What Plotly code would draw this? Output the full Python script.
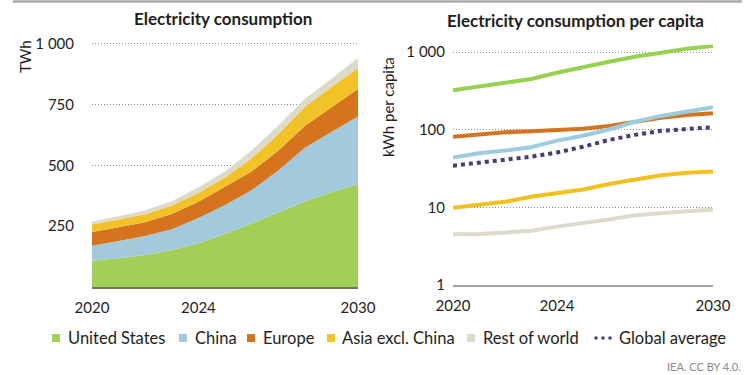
import plotly.graph_objects as go

# ---------------- data ----------------
years = [2020, 2021, 2022, 2023, 2024, 2025, 2026, 2027, 2028, 2029, 2030]
series_names = ["United States", "China", "Europe", "Asia excl. China", "Rest of world"]
global_name = "Global average"

# Electricity consumption (TWh), stacked
twh_us = [108, 118, 131, 152, 180, 218, 261, 306, 351, 389, 423]
twh_china = [61, 71, 79, 85, 103, 119, 136, 173, 221, 248, 277]
twh_europe = [57, 56, 56, 63, 67, 75, 78, 81, 89, 100, 113]
twh_asia = [31, 32, 33, 35, 36, 38, 53, 68, 78, 85, 87]
twh_rest = [12, 14, 16, 17, 24, 25, 33, 34, 33, 34, 41]

# Electricity consumption per capita (kWh per capita), log scale
pc_us = [323, 360, 405, 451, 544, 650, 755, 875, 995, 1109, 1202]
pc_china = [44, 50, 54, 59.5, 72.5, 84, 101, 127, 151, 171, 195]
pc_europe = [81.5, 87, 93, 96, 98, 103, 112, 127, 143, 155, 163]
pc_asia = [9.9, 10.8, 11.8, 13.7, 15.2, 17, 20, 23, 26, 28, 29]
pc_rest = [4.5, 4.55, 4.75, 5.0, 5.65, 6.2, 7.0, 7.9, 8.5, 8.9, 9.3]
pc_global = [34.5, 37.7, 40.8, 45, 51, 60.5, 74, 86, 97, 103.5, 108]

x_tickvals = [2020, 2024, 2030]
left_tickvals = [250, 500, 750, 1000]
left_ticktext = ["250", "500", "750", "1 000"]
right_tickvals = [1, 10, 100, 1000]
right_ticktext = ["1", "10", "100", "1 000"]

titles = ["Electricity consumption", "Electricity consumption per capita"]
left_unit = "TWh"
right_unit = "kWh per capita"
source = "IEA. CC BY 4.0."

# ---------------- style ----------------
colors = ["#A1CF58", "#A2CADC", "#D6731F", "#F2C229", "#DDDACA"]
line_colors = ["#98D050", "#9DCBE0", "#D6731F", "#F4C020", "#DDDACA"]
global_color = "#4A3A78"
FONT = "Lato"
TXT = "#1e1e1e"

W, H = 750, 375


def fx(px):
    return px / W


def fy(px):
    return 1 - px / H


fig = go.Figure()

tw_series = [twh_us, twh_china, twh_europe, twh_asia, twh_rest]
for name, vals, col in zip(series_names, tw_series, colors):
    fig.add_trace(go.Scatter(
        x=years, y=vals, name=name, stackgroup="one", mode="none",
        fillcolor=col, line=dict(width=0), showlegend=False, hoverinfo="skip",
        xaxis="x", yaxis="y"))

pc_series = [pc_us, pc_china, pc_europe, pc_asia, pc_rest]
order = [4, 3, 2, 0, 1]
for i in order:
    fig.add_trace(go.Scatter(
        x=years, y=pc_series[i], name=series_names[i], mode="lines",
        line=dict(color=line_colors[i], width=4), showlegend=False, hoverinfo="skip",
        xaxis="x2", yaxis="y2"))
fig.add_trace(go.Scatter(
    x=years, y=pc_global, name=global_name, mode="lines",
    line=dict(color=global_color, width=4, dash="4px,4px"), showlegend=False, hoverinfo="skip",
    xaxis="x2", yaxis="y2"))

# axes geometry (pixels)
L_x0, L_x1, L_ybot = 92, 358, 287
L_scale = 0.2434  # px per TWh
L_top_val = 1005
L_ytop = L_ybot - L_top_val * L_scale
R_x0, R_x1, R_ybot = 453, 713, 285
R_dec = 77.6
R_top = 3.1
R_ytop = R_ybot - R_top * R_dec

grid = dict(showgrid=True, gridcolor="#8c8c8c", gridwidth=1, griddash="1px,2px")
tickfont = dict(family=FONT, size=15, color=TXT)

fig.update_layout(
    width=W, height=H, margin=dict(l=0, r=0, t=0, b=0, autoexpand=False),
    paper_bgcolor="white", plot_bgcolor="white",
    showlegend=False, hovermode=False,
    xaxis=dict(domain=[fx(L_x0), fx(L_x1)], range=[2020, 2030], tickvals=x_tickvals,
               showgrid=False, zeroline=False, showline=True, linecolor="#6f7757", linewidth=2,
               ticks="outside", ticklen=6, tickcolor="rgba(0,0,0,0)", tickfont=tickfont,
               anchor="y", automargin=False),
    yaxis=dict(domain=[fy(L_ybot), fy(L_ytop)], range=[0, L_top_val], tickvals=left_tickvals,
               ticktext=left_ticktext, zeroline=False, showline=False,
               ticks="outside", ticklen=14, tickcolor="rgba(0,0,0,0)", tickfont=tickfont,
               anchor="x", automargin=False, **grid),
    xaxis2=dict(domain=[fx(R_x0), fx(R_x1)], range=[2020, 2030], tickvals=x_tickvals,
                showgrid=False, zeroline=False, showline=True, linecolor="#a0a0a0", linewidth=1.5,
                ticks="outside", ticklen=6, tickcolor="rgba(0,0,0,0)", tickfont=tickfont,
                anchor="y2", automargin=False),
    yaxis2=dict(domain=[fy(R_ybot), fy(R_ytop)], type="log", range=[0, R_top],
                tickvals=right_tickvals, ticktext=right_ticktext, zeroline=False, showline=False,
                ticks="outside", ticklen=4, tickcolor="rgba(0,0,0,0)", tickfont=tickfont,
                anchor="x2", automargin=False, **grid),
)

ann = []
ann.append(dict(text="<b>%s</b>" % titles[0], x=fx(223), y=fy(19), xref="paper", yref="paper",
                showarrow=False, xanchor="center", yanchor="middle",
                font=dict(family=FONT, size=17, color=TXT)))
ann.append(dict(text="<b>%s</b>" % titles[1], x=fx(575), y=fy(20), xref="paper", yref="paper",
                showarrow=False, xanchor="center", yanchor="middle",
                font=dict(family=FONT, size=17, color=TXT)))
ann.append(dict(text=left_unit, x=fx(25), y=fy(57), xref="paper", yref="paper", textangle=-90,
                showarrow=False, xanchor="center", yanchor="middle",
                font=dict(family=FONT, size=15, color=TXT)))
ann.append(dict(text=right_unit, x=fx(388), y=fy(107), xref="paper", yref="paper", textangle=-90,
                showarrow=False, xanchor="center", yanchor="middle",
                font=dict(family=FONT, size=15, color=TXT)))
ann.append(dict(text=source, x=fx(743), y=fy(366), xref="paper", yref="paper",
                showarrow=False, xanchor="right", yanchor="middle",
                font=dict(family=FONT, size=11, color="#8a8a8a")))

# manual legend
leg_y = 338
leg_sq_x = [56, 183, 251, 331, 471]
leg_txt_x = [66, 193, 261, 340, 481]
shapes = []
for name, col, sx, tx in zip(series_names, colors, leg_sq_x, leg_txt_x):
    shapes.append(dict(type="rect", xref="paper", yref="paper",
                       x0=fx(sx - 4), x1=fx(sx + 4), y0=fy(leg_y + 4), y1=fy(leg_y - 4),
                       fillcolor=col, line=dict(width=0)))
    ann.append(dict(text=name, x=fx(tx), y=fy(leg_y), xref="paper", yref="paper",
                    showarrow=False, xanchor="left", yanchor="middle",
                    font=dict(family=FONT, size=16.5, color=TXT)))
for dx in [596, 603, 610]:
    shapes.append(dict(type="circle", xref="paper", yref="paper",
                       x0=fx(dx - 1.8), x1=fx(dx + 1.8), y0=fy(leg_y + 1.8), y1=fy(leg_y - 1.8),
                       fillcolor=global_color, line=dict(width=0)))
ann.append(dict(text=global_name, x=fx(617), y=fy(leg_y), xref="paper", yref="paper",
                showarrow=False, xanchor="left", yanchor="middle",
                font=dict(family=FONT, size=16.5, color=TXT)))

# top rule
shapes.append(dict(type="line", xref="paper", yref="paper", x0=fx(13), x1=fx(742),
                   y0=fy(1.5), y1=fy(1.5), line=dict(color="#a8a8a8", width=2.5)))

fig.update_layout(annotations=ann, shapes=shapes)

fig.write_html("out.html", config={"displayModeBar": False, "staticPlot": True},
               post_script="document.body.style.margin='0';")
